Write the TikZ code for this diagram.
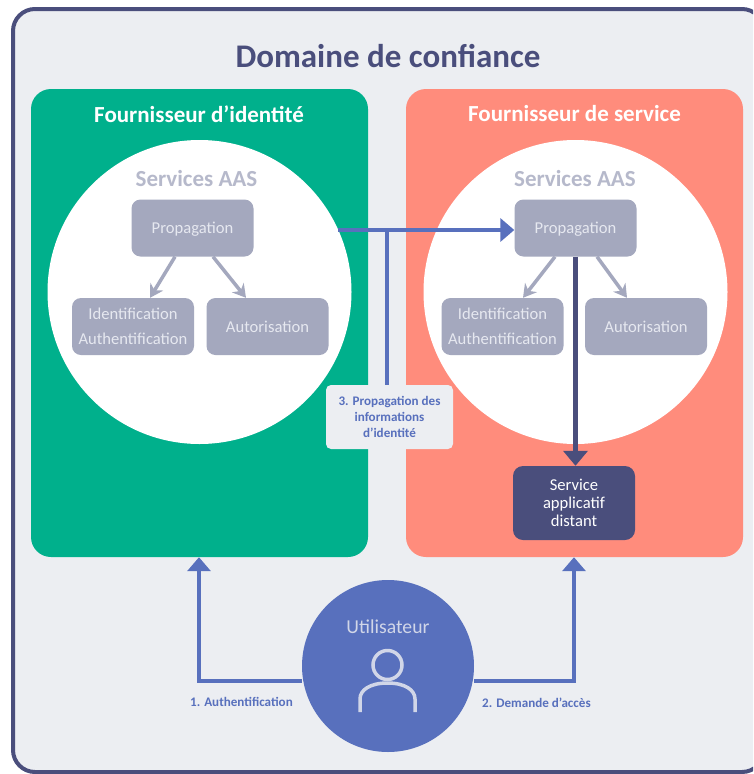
\documentclass[tikz,border=0pt]{standalone}
\usepackage{fontspec}
\setmainfont{Carlito}
\usetikzlibrary{arrows.meta}

\definecolor{fond}{HTML}{ECEEF2}
\definecolor{sombre}{HTML}{4A4E7C}
\definecolor{vert}{HTML}{00B08C}
\definecolor{saumon}{HTML}{FF8C7C}
\definecolor{bleu}{HTML}{5870BD}
\definecolor{gris}{HTML}{A4A8BE}
\definecolor{clair}{HTML}{E6E8F0}

\tikzset{
  zone/.style={fill=#1, rounded corners=20pt, minimum width=337pt, minimum height=468pt, inner sep=0pt},
  rond/.style={circle, fill=white, minimum size=304pt, inner sep=0pt},
  boite/.style={fill=gris, rounded corners=9pt, minimum width=122pt, minimum height=57pt, inner sep=0pt, align=center, text=clair, font=\fontsize{16.6}{25}\selectfont},
  titre/.style={font=\fontsize{23}{25}\selectfont\bfseries, text=white},
  sousTitre/.style={font=\fontsize{23}{25}\selectfont\bfseries, text=gris!80},
  legende/.style={font=\fontsize{13.1}{16}\selectfont\bfseries, text=bleu, align=center, inner sep=0pt},
  flecheGris/.style={draw=gris, line width=3.5pt, -{Stealth[length=13pt,width=15pt]}},
  flecheBleu/.style={draw=bleu, line width=4pt, -{Triangle[length=14pt,width=23pt]}},
}

\begin{document}
\begin{tikzpicture}[x=1pt, y=-1pt]

\useasboundingbox (0,0) rectangle (753,774);
\clip (0,0) rectangle (753,774);

\draw [draw=sombre, fill=fond, line width=4pt, rounded corners=22pt] (13,9) rectangle (764,772);
\node [font=\fontsize{33}{36}\selectfont\bfseries, text=sombre] (domaine) at (388,56) {Domaine de confiance};

% -------- Zones -----------
\node [zone=vert]   (idp) at (199.5,323) {};
\node [zone=saumon] (sp)  at (574.5,323) {};
\node [titre] (titreIdp) at (199,114) {Fournisseur d’identité};
\node [titre] (titreSp)  at (574.5,114) {Fournisseur de service};

\node [rond] (rondIdp) at (199.5,292) {};
\node [rond] (rondSp)  at (575.5,292) {};
\node [sousTitre] (aasIdp) at (196.5,179) {Services AAS};
\node [sousTitre] (aasSp)  at (575,179) {Services AAS};

% -------- Boxes -----------
\node [boite, text depth=0pt] (propIdp) at (192.5,228) {Propagation};
\node [boite] (identIdp) at (133,326.5) {Identification\\Authentification};
\node [boite] (autoIdp) at (267.5,326.5) {Autorisation};

\node [boite, text depth=0pt] (propSp) at (575.5,228) {Propagation};
\node [boite] (identSp) at (502.5,326.5) {Identification\\Authentification};
\node [boite] (autoSp) at (646,326.5) {Autorisation};

\node [fill=sombre, rounded corners=10pt, minimum width=122pt, minimum height=74pt, inner sep=0pt, align=center, text=white, font=\fontsize{16.6}{18}\selectfont] (service) at (574,503) {Service\\applicatif\\distant};

\node [circle, fill=bleu, minimum size=172pt, inner sep=0pt] (user) at (388,666) {};
\node [text=clair!85!bleu, font=\fontsize{19.7}{22}\selectfont] (userTexte) at (388,627) {Utilisateur};
\node [circle, draw=clair!85!bleu, line width=3.5pt, minimum size=29pt, inner sep=0pt] (tete) at (387.5,665) {};
\draw [draw=clair!85!bleu, line width=3.5pt] (360,712) -- (360,699) .. controls (360,690) and (370,683) .. (387.5,683) .. controls (405,683) and (415,690) .. (415,699) -- (415,712);

% -------- Connectors -----------
\draw [flecheGris] (propIdp.south -| 175,0) -- (identIdp.north -| 150,0);
\draw [flecheGris] (propIdp.south -| 213,0) -- (autoIdp.north -| 246,0);
\draw [flecheGris] (propSp.south -| 555,0) -- (identSp.north -| 523,0);
\draw [flecheGris] (propSp.south -| 597,0) -- (autoSp.north -| 627,0);

\coordinate (jonction) at (387,230);
\coordinate (departIdp) at (338,230);
\coordinate (coudeG) at (199,681);
\coordinate (coudeD) at (574,681);

\draw [flecheBleu] (departIdp) -- (jonction -| propSp.west);
\draw [draw=sombre, line width=5pt, -{Triangle[length=15pt,width=24pt]}] (propSp.south) -- (propSp.south |- service.north);
\draw [flecheBleu] (user.west |- coudeG) -- (coudeG) -- (coudeG |- idp.south);
\draw [flecheBleu] (user.east |- coudeD) -- (coudeD) -- (coudeD |- sp.south);

\node [fill=fond, rounded corners=5pt, minimum width=127pt, minimum height=64pt, legende] (etiquette) at (389.5,417) {3. Propagation des\\informations\\d’identité};
\draw [draw=bleu, line width=4pt] (jonction) -- (jonction |- etiquette.north);

% -------- Labels -----------
\node [legende] (legendeAuth) at (241.5,702) {1. Authentification};
\node [legende] (legendeAcces) at (536.5,703) {2. Demande d’accès};

\end{tikzpicture}
\end{document}
